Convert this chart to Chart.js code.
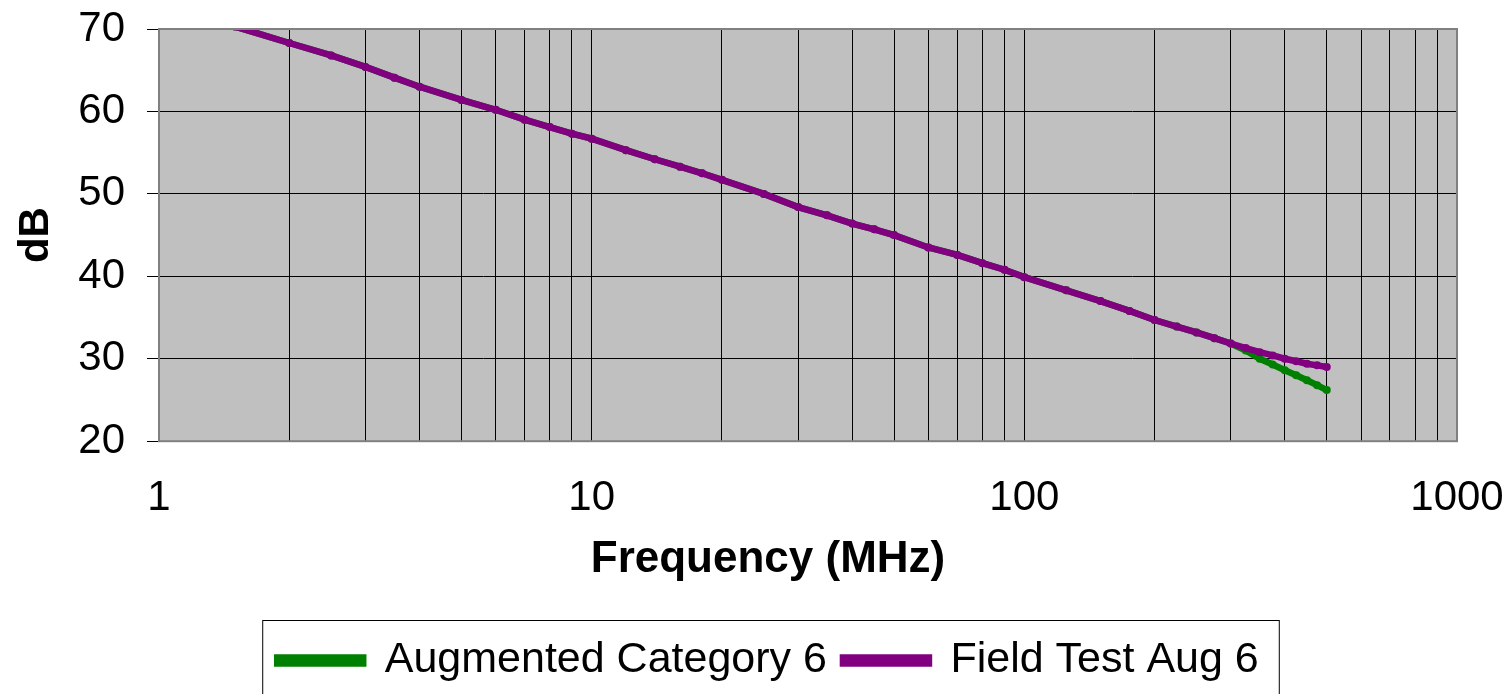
<!DOCTYPE html>
<html>
<head>
<meta charset="utf-8">
<script src="https://cdn.jsdelivr.net/npm/chart.js@4.4.1/dist/chart.umd.min.js"></script>
<style>
  body { margin: 0; background: #fff; }
  #wrap { width: 1511px; height: 694px; }
</style>
</head>
<body>
<div id="wrap"><canvas id="chart"></canvas></div>
<script>
// frequency points (MHz) and the two curves
const freqMHz = [1, 1.5, 2, 2.5, 3, 3.5, 4, 5, 6, 7, 8, 9, 10, 12, 14, 16, 18, 20,
  25, 30, 35, 40, 45, 50, 60, 70, 80, 90, 100, 125, 150, 175, 200, 225, 250, 275,
  300, 325, 350, 375, 400, 425, 450, 475, 500];
const augCat6 = [73.2, 70.3, 68.3, 66.8, 65.4, 64.1, 63.0, 61.4, 60.2, 59.0, 58.1, 57.3, 56.7,
  55.3, 54.2, 53.3, 52.5, 51.7, 50.0, 48.4, 47.4, 46.4, 45.7, 45.0, 43.5, 42.6, 41.6, 40.8,
  39.9, 38.3, 37.0, 35.8, 34.7, 33.9, 33.2, 32.5, 31.85, 31.0, 30.0, 29.3, 28.6, 28.0, 27.4,
  26.8, 26.2];
const fieldTest = [73.2, 70.3, 68.3, 66.8, 65.4, 64.1, 63.0, 61.4, 60.2, 59.0, 58.1, 57.3, 56.7,
  55.3, 54.2, 53.3, 52.5, 51.7, 50.0, 48.4, 47.4, 46.4, 45.7, 45.0, 43.5, 42.6, 41.6, 40.8,
  39.9, 38.3, 37.0, 35.8, 34.7, 33.9, 33.2, 32.5, 31.85, 31.3, 30.8, 30.4, 30.0, 29.7, 29.4,
  29.2, 29.0];

// grid positions on the log axis, only decades get a label
const xGrid = [1, 2, 3, 4, 5, 6, 7, 8, 9, 10, 20, 30, 40, 50, 60, 70, 80, 90,
  100, 200, 300, 400, 500, 600, 700, 800, 900, 1000];
const xLabels = [1, 10, 100, 1000];
const yTicks = [20, 30, 40, 50, 60, 70];

const FONT = "'Liberation Sans', Arial, sans-serif";

function toPoints(vals) {
  return freqMHz.map((f, i) => ({ x: f, y: vals[i] }));
}

// gray plot area + gray frame, and the rotated dB title
const plotArea = {
  id: 'plotArea',
  beforeDraw(chart) {
    const a = chart.chartArea, c = chart.ctx;
    c.save();
    c.fillStyle = '#c0c0c0';
    c.fillRect(a.left, a.top, a.right - a.left, a.bottom - a.top);
    c.restore();
  },
  afterDatasetsDraw(chart) {
    const a = chart.chartArea, c = chart.ctx;
    c.save();
    c.strokeStyle = '#808080';
    c.lineWidth = 2;
    c.strokeRect(a.left, a.top, a.right - a.left, a.bottom - a.top);
    c.restore();
  },
  afterDraw(chart) {
    const a = chart.chartArea, c = chart.ctx;
    c.save();
    c.translate(36, (a.top + a.bottom) / 2);
    c.rotate(-Math.PI / 2);
    c.fillStyle = '#000';
    c.font = 'bold 42px ' + FONT;
    c.textAlign = 'center';
    c.textBaseline = 'middle';
    c.fillText('dB', 0, 0);
    c.restore();
  }
};

// frame round the legend items
const legendBox = {
  id: 'legendBox',
  afterDraw(chart) {
    const boxes = chart.legend.legendHitBoxes;
    if (!boxes || !boxes.length) return;
    const first = boxes[0], last = boxes[boxes.length - 1];
    const c = chart.ctx;
    const left = first.left - 15;
    const right = last.left + last.width + 20;
    const top = first.top - 19;
    c.save();
    c.strokeStyle = '#000';
    c.lineWidth = 1;
    c.strokeRect(left + 0.5, top + 0.5, right - left, 120);
    c.restore();
  }
};

const ctx = document.getElementById('chart').getContext('2d');
new Chart(ctx, {
  type: 'line',
  data: {
    datasets: [
      {
        label: 'Augmented Category 6',
        data: toPoints(augCat6),
        borderColor: '#008000',
        backgroundColor: '#008000',
        pointBackgroundColor: '#008000',
        order: 1
      },
      {
        label: 'Field Test Aug 6',
        data: toPoints(fieldTest),
        borderColor: '#800080',
        backgroundColor: '#800080',
        pointBackgroundColor: '#800080',
        order: 0
      }
    ]
  },
  options: {
    responsive: true,
    maintainAspectRatio: false,
    animation: false,
    layout: { padding: { left: 79, right: 54, top: 29, bottom: 2 } },
    elements: {
      line: { borderWidth: 6.5, tension: 0 },
      point: { radius: 4, borderWidth: 0, hoverRadius: 4 }
    },
    scales: {
      x: {
        type: 'logarithmic',
        min: 1,
        max: 1000,
        afterBuildTicks: scale => { scale.ticks = xGrid.map(v => ({ value: v })); },
        afterFit: scale => {
          scale.height = 86;
          scale.paddingLeft = 0;
          scale.paddingRight = 0;
        },
        grid: { color: '#000', lineWidth: 1, drawTicks: false },
        border: { display: false },
        ticks: {
          autoSkip: false,
          maxRotation: 0,
          padding: 32,
          color: '#000',
          font: { family: FONT, size: 42 },
          callback: v => (xLabels.includes(v) ? String(v) : '')
        }
      },
      y: {
        min: 20,
        max: 70,
        afterBuildTicks: scale => { scale.ticks = yTicks.map(v => ({ value: v })); },
        afterFit: scale => {
          scale.width = 80;
          scale.paddingTop = 0;
          scale.paddingBottom = 0;
        },
        grid: { color: '#000', lineWidth: 1, tickLength: 12 },
        border: { display: false },
        ticks: {
          padding: 22,
          color: '#000',
          font: { family: FONT, size: 42 }
        }
      }
    },
    plugins: {
      tooltip: { enabled: false },
      legend: {
        position: 'bottom',
        labels: {
          boxWidth: 86,
          boxHeight: 6,
          padding: 16,
          color: '#000',
          font: { family: FONT, size: 43 },
          sort: (a, b) => a.datasetIndex - b.datasetIndex
        },
        title: {
          display: true,
          text: 'Frequency (MHz)',
          color: '#000',
          padding: { top: 11, bottom: 32 },
          font: { family: FONT, size: 44, weight: 'bold' }
        }
      }
    }
  },
  plugins: [plotArea, legendBox]
});
</script>
</body>
</html>
